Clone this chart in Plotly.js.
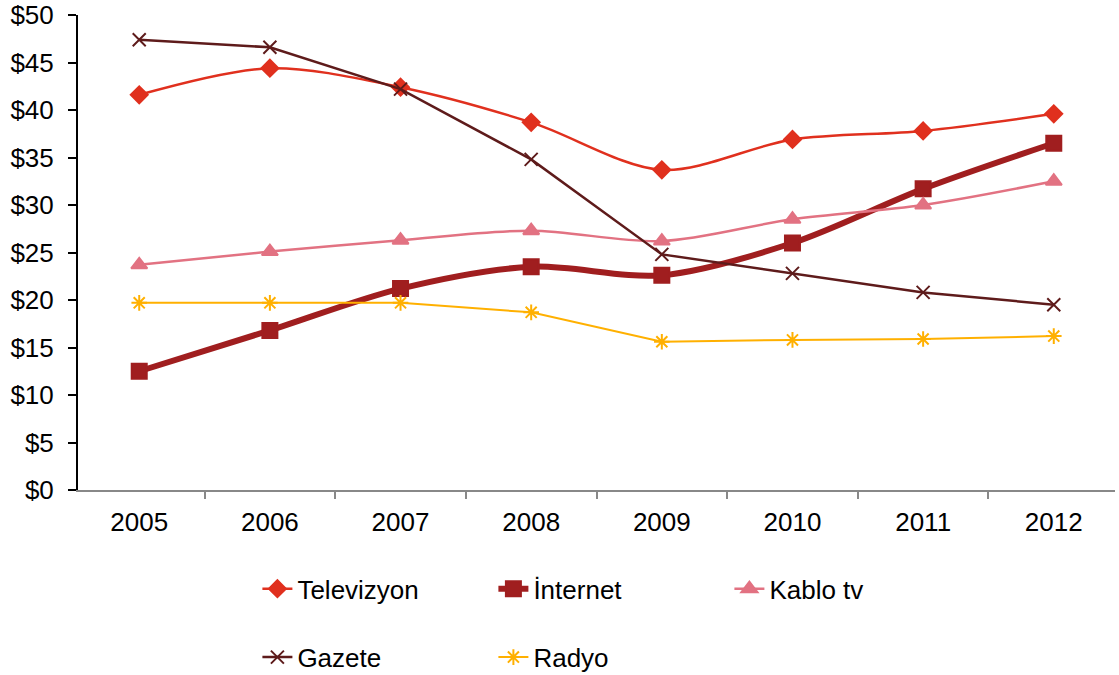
<!DOCTYPE html>
<html><head><meta charset="utf-8">
<script src="https://cdn.plot.ly/plotly-3.0.1.min.js"></script>
<style>body{margin:0;background:#fff}#c{width:1119px;height:675px}</style>
</head><body><div id="c"></div>
<script>
const years = ['2005','2006','2007','2008','2009','2010','2011','2012'];
const televizyon = [41.6, 44.4, 42.4, 38.7, 33.7, 36.9, 37.8, 39.6];
const internet   = [12.5, 16.8, 21.2, 23.5, 22.6, 26.0, 31.7, 36.5];
const kablo      = [23.7, 25.1, 26.3, 27.3, 26.2, 28.5, 30.0, 32.5];
const gazete     = [47.4, 46.6, 42.2, 34.8, 24.8, 22.8, 20.8, 19.5];
const radyo      = [19.7, 19.7, 19.7, 18.7, 15.6, 15.8, 15.9, 16.2];

const F = 'Liberation Sans, Arial, sans-serif';
const traces = [
 {name:'Televizyon', y:televizyon, color:'#E0301E', w:2.5, sym:'diamond', sz:13, shape:'spline', lg:'legend'},
 {name:'İnternet', y:internet, color:'#A01E1F', w:6, sym:'square', sz:15, shape:'spline', lg:'legend'},
 {name:'Kablo tv', y:kablo, color:'#E27282', w:2.5, sym:'triangle-up', sz:14, shape:'spline', lg:'legend'},
 {name:'Gazete', y:gazete, color:'#5E1B1B', w:2.5, sym:'x-thin-open', sz:13, shape:'linear', lg:'legend2'},
 {name:'Radyo', y:radyo, color:'#FFB000', w:2, sym:'asterisk-open', sz:13, shape:'linear', lg:'legend2'}
].map(t => ({
  type:'scatter', mode:'lines+markers', name:t.name, x:years, y:t.y,
  legend:t.lg,
  line:{color:t.color, width:t.w, shape:t.shape, smoothing:0.9},
  marker:{symbol:t.sym, size:t.sz, color:t.color, line:{color:t.color, width:2}}
}));

const layout = {
  width:1119, height:675,
  margin:{l:78, r:4, t:15, b:185, autoexpand:false},
  paper_bgcolor:'#fff', plot_bgcolor:'#fff',
  font:{family:F, size:26, color:'#000'},
  xaxis:{type:'category', showline:true, linecolor:'#888', linewidth:2,
    ticks:'outside', tickson:'boundaries', ticklen:7, tickcolor:'#888', tickwidth:2,
    showgrid:false, zeroline:false, tickfont:{size:26}, ticklabelstandoff:8},
  yaxis:{range:[0,50], dtick:5, tickprefix:'$', showline:true, linecolor:'#000', linewidth:2,
    ticks:'outside', ticklen:8, tickcolor:'#000', tickwidth:2, showgrid:false, zeroline:false,
    tickfont:{size:26}, ticklabelstandoff:9},
  showlegend:true,
  legend:{orientation:'h', x:0.173, xanchor:'left', y:-0.208, yanchor:'middle',
    entrywidth:191, entrywidthmode:'pixels', font:{size:26}, bgcolor:'rgba(0,0,0,0)', traceorder:'normal'},
  legend2:{orientation:'h', x:0.173, xanchor:'left', y:-0.352, yanchor:'middle',
    entrywidth:191, entrywidthmode:'pixels', font:{size:26}, bgcolor:'rgba(0,0,0,0)', traceorder:'normal'}
};
Plotly.newPlot('c', traces, layout, {displayModeBar:false, staticPlot:true});
</script></body></html>
